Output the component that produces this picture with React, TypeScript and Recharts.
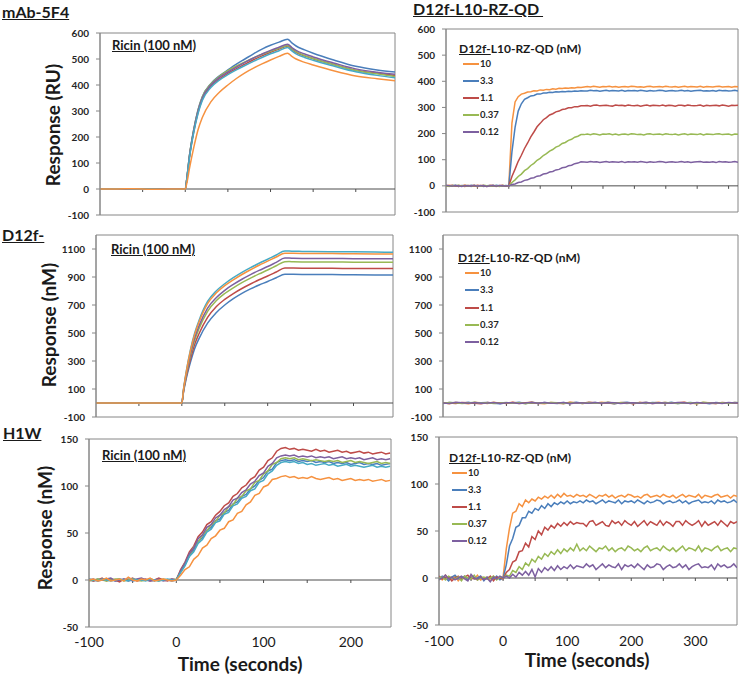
import React from 'react';
import { LineChart, Line, XAxis, YAxis, ReferenceArea, ReferenceLine } from 'recharts';

const FONT = 'Lato, "Liberation Sans", Arial, sans-serif';
const BLUE = '#4A7EBB';
const RED = '#BE4B48';
const GREEN = '#98B954';
const PURPLE = '#7D60A0';
const TEAL = '#46AAC5';
const ORANGE = '#F69240';
const BORDER = '#868686';
const ZERO = '#4d4d4d';

// series order as drawn (last one on top)
const ricinColors = [BLUE, RED, GREEN, PURPLE, TEAL, ORANGE];
const concLabels = ['10', '3.3', '1.1', '0.37', '0.12'];
const concColors = [ORANGE, BLUE, RED, GREEN, PURPLE];

const leftXDomain: [number, number] = [-100, 246];
const rightXDomain: [number, number] = [-100, 365];
const leftZeroTicks = [-50, 0, 50, 100, 150, 200];
const rightZeroTicks = [-50, 0, 50, 100, 150, 200, 250, 300, 350];
const leftTimeLabels = [-100, 0, 100, 200];
const rightTimeLabels = [-100, 0, 100, 200, 300];
const ruTicks = [-100, 0, 100, 200, 300, 400, 500, 600];
const bigTicks = [-100, 100, 300, 500, 700, 900, 1100];
const smallTicks = [-50, 0, 50, 100, 150];

// time (seconds)
const tSmooth = [-100, -80, -60, -40, -20, 0, 2, 5, 10, 15, 20, 30, 40, 50, 60, 70, 80, 90, 100, 110, 120, 125, 130, 140, 150, 175, 200, 225, 246];
const tH1W = [-100, -95, -90, -85, -80, -75, -70, -65, -60, -55, -50, -45, -40, -35, -30, -25, -20, -15, -10, -5, 0, 5, 10, 15, 20, 25, 30, 35, 40, 45, 50, 55, 60, 65, 70, 75, 80, 85, 90, 95, 100, 105, 110, 115, 120, 125, 130, 135, 140, 145, 150, 155, 160, 165, 170, 175, 180, 185, 190, 195, 200, 205, 210, 215, 220, 225, 230, 235, 240, 245];
const tRight = [-100, -95, -90, -85, -80, -75, -70, -65, -60, -55, -50, -45, -40, -35, -30, -25, -20, -15, -10, -5, 0, 5, 10, 15, 20, 25, 30, 35, 40, 45, 50, 55, 60, 65, 70, 75, 80, 85, 90, 95, 100, 105, 110, 115, 120, 125, 130, 135, 140, 145, 150, 155, 160, 165, 170, 175, 180, 185, 190, 195, 200, 205, 210, 215, 220, 225, 230, 235, 240, 245, 250, 255, 260, 265, 270, 275, 280, 285, 290, 295, 300, 305, 310, 315, 320, 325, 330, 335, 340, 345, 350, 355, 360, 365];
const tFlat = [-100, -90, -80, -70, -60, -50, -40, -30, -20, -10, 0, 10, 20, 30, 40, 50, 60, 70, 80, 90, 100, 110, 120, 130, 140, 150, 160, 170, 180, 190, 200, 210, 220, 230, 240, 250, 260, 270, 280, 290, 300, 310, 320, 330, 340, 350, 360, 365];

// mAb-5F4 + ricin (RU)
const mabBlue = [0, 1, 0, -1, 0, 0, 45, 130, 230, 305, 355, 405, 435, 458, 480, 500, 520, 538, 553, 565, 576, 562, 550, 535, 522, 495, 472, 458, 450];
const mabRed = [0, 0, 1, 0, -1, 0, 42, 125, 222, 295, 345, 395, 423, 445, 463, 480, 497, 512, 526, 538, 550, 537, 526, 512, 501, 478, 457, 445, 437];
const mabGreen = [0, -1, 0, 1, 0, 0, 45, 130, 228, 303, 354, 404, 433, 455, 473, 489, 504, 518, 530, 541, 552, 539, 528, 513, 502, 478, 456, 443, 433];
const mabPurple = [0, 0, -1, 0, 1, 0, 44, 128, 226, 300, 350, 400, 429, 450, 469, 487, 504, 519, 533, 545, 557, 544, 533, 519, 508, 484, 462, 449, 441];
const mabTeal = [0, 1, 0, 0, -1, 0, 42, 122, 218, 290, 340, 390, 419, 440, 458, 475, 491, 506, 520, 532, 544, 531, 520, 506, 495, 472, 451, 437, 428];
const mabOrange = [0, 0, 1, -1, 0, 0, 25, 80, 160, 228, 275, 335, 372, 400, 425, 447, 465, 481, 496, 510, 522, 510, 500, 487, 477, 454, 435, 424, 416];

// D12f- + ricin
const d12Blue = [0, 0, 0, 0, 0, 0, 80, 170, 290, 390, 460, 570, 645, 700, 745, 783, 815, 843, 868, 895, 920, 920, 919, 918, 918, 917, 916, 915, 915];
const d12Red = [0, 0, 0, 0, 0, 0, 85, 183, 314, 420, 495, 612, 688, 740, 782, 818, 850, 880, 907, 936, 965, 965, 964, 963, 963, 962, 961, 960, 960];
const d12Green = [0, 0, 0, 0, 0, 0, 91, 197, 339, 449, 530, 655, 730, 782, 823, 860, 892, 922, 950, 980, 1009, 1010, 1009, 1008, 1008, 1007, 1006, 1005, 1005];
const d12Purple = [0, 0, 0, 0, 0, 0, 94, 205, 353, 467, 551, 678, 752, 805, 847, 884, 917, 947, 975, 1005, 1035, 1035, 1034, 1033, 1033, 1032, 1031, 1030, 1030];
const d12Teal = [0, 0, 0, 0, 0, 0, 100, 220, 380, 500, 590, 725, 800, 852, 895, 933, 967, 998, 1027, 1057, 1085, 1085, 1084, 1083, 1082, 1081, 1080, 1078, 1077];
const d12Orange = [0, 0, 0, 0, 0, 0, 98, 215, 372, 490, 578, 710, 785, 838, 880, 918, 952, 984, 1013, 1043, 1070, 1070, 1069, 1068, 1068, 1067, 1066, 1065, 1065];

// H1W + ricin
const h1wRed = [1, -1, 0, 2, -1, 1, 0, -2, 1, 0, 2, -1, 0, 1, -1, 0, 2, 0, -1, 1, 0, 11, 19, 30, 36, 46, 51, 59, 62, 69, 73, 79, 82, 89, 92, 98, 101, 107, 110, 117, 120, 127, 130, 137, 140, 141, 139, 140, 138, 139, 138, 137, 139, 137, 138, 136, 137, 138, 136, 137, 135, 136, 137, 135, 136, 134, 135, 136, 134, 135];
const h1wPurple = [0, 1, -1, 0, 1, 2, -1, 0, 1, -1, 0, 1, 2, 0, -1, 0, 1, -1, 0, 1, 0, 10, 18, 28, 34, 44, 48, 56, 59, 66, 69, 75, 78, 85, 87, 93, 96, 102, 105, 111, 114, 121, 124, 130, 132, 133, 132, 133, 131, 132, 131, 132, 130, 131, 130, 131, 129, 130, 131, 129, 130, 129, 130, 128, 129, 130, 128, 129, 128, 129];
const h1wGreen = [-1, 0, 1, 0, -1, 0, 1, 1, -1, 0, 1, 0, -1, 0, 1, 0, -1, 1, 0, 0, 1, 9, 18, 25, 35, 40, 48, 52, 59, 62, 69, 71, 78, 80, 87, 89, 95, 97, 104, 106, 113, 116, 123, 125, 129, 130, 129, 130, 128, 129, 128, 127, 128, 127, 126, 127, 126, 127, 125, 126, 127, 125, 126, 125, 124, 125, 126, 124, 125, 124];
const h1wBlue = [0, -1, 1, 0, 0, 1, -1, 0, 0, 1, -1, 0, 1, 0, 0, -1, 1, 0, 0, -1, 0, 9, 16, 26, 32, 41, 45, 53, 56, 63, 65, 72, 74, 81, 83, 89, 91, 97, 100, 106, 109, 116, 118, 125, 127, 128, 127, 128, 126, 127, 126, 127, 125, 126, 125, 126, 124, 125, 124, 125, 123, 124, 125, 123, 124, 123, 124, 122, 123, 124];
const h1wTeal = [1, 0, -1, 1, 0, -1, 0, 1, 0, -1, 1, 0, 0, -1, 1, 0, -1, 0, 1, 0, 0, 8, 15, 25, 30, 39, 43, 51, 54, 61, 63, 70, 72, 79, 81, 87, 89, 95, 97, 104, 106, 113, 116, 122, 125, 126, 125, 126, 124, 125, 123, 124, 122, 123, 124, 122, 123, 121, 122, 123, 121, 122, 121, 120, 121, 122, 120, 121, 120, 121];
const h1wOrange = [0, 1, -1, 0, 2, -1, 0, 1, -1, 3, 0, -1, 1, 0, 2, -1, 0, 1, 0, -1, 0, 5, 11, 14, 22, 26, 34, 37, 44, 47, 53, 55, 62, 64, 71, 73, 80, 83, 90, 92, 99, 101, 107, 108, 110, 111, 109, 110, 108, 109, 108, 110, 108, 107, 108, 109, 107, 108, 106, 107, 108, 106, 107, 106, 107, 105, 106, 107, 105, 106];

// D12f-L10-RZ-QD on mAb-5F4 (RU)
const qdTopOrange = [0, 2, -1, 1, -2, 0, 3, -1, 0, 2, -3, 1, 0, -1, 2, 0, -2, 1, -1, 0, 0, 240, 321, 341, 351, 354, 359, 360, 364, 363, 367, 366, 369, 368, 371, 370, 373, 372, 374, 373, 375, 374, 377, 376, 378, 380, 378, 381, 379, 377, 380, 379, 381, 378, 380, 377, 379, 380, 378, 381, 380, 378, 379, 377, 380, 381, 378, 379, 380, 378, 381, 379, 378, 380, 377, 379, 381, 378, 380, 379, 378, 381, 377, 380, 379, 378, 380, 381, 378, 379, 380, 377, 380, 379];
const qdTopBlue = [1, -1, 0, 2, -2, 1, 0, -1, 2, 0, -1, 1, -2, 0, 1, -1, 2, 0, -1, 1, 0, 130, 224, 286, 314, 331, 337, 344, 346, 351, 351, 355, 355, 358, 357, 360, 359, 361, 360, 362, 361, 363, 362, 364, 363, 363, 366, 364, 365, 362, 364, 366, 363, 365, 364, 363, 366, 362, 365, 364, 365, 363, 366, 364, 362, 365, 363, 364, 366, 365, 362, 364, 365, 363, 364, 366, 363, 365, 362, 364, 365, 366, 363, 364, 363, 365, 362, 366, 364, 365, 363, 364, 366, 363];
const qdTopRed = [-1, 0, 2, -1, 1, 0, -2, 1, 0, -1, 2, 0, 1, -2, 0, 1, -1, 0, 2, -1, 0, 36, 64, 94, 117, 143, 164, 187, 206, 226, 239, 253, 261, 271, 276, 283, 286, 292, 294, 299, 299, 303, 303, 306, 306, 307, 305, 308, 309, 306, 307, 308, 306, 305, 309, 307, 308, 306, 309, 307, 306, 308, 305, 307, 309, 306, 308, 307, 306, 309, 306, 308, 307, 305, 308, 308, 306, 309, 307, 306, 307, 309, 305, 308, 306, 307, 308, 306, 309, 307, 305, 308, 307, 308];
const qdTopGreen = [0, -2, 1, 0, 2, -1, 0, 1, -2, 1, 0, -1, 2, 0, -1, 1, 0, -2, 1, 0, 0, 13, 23, 36, 45, 58, 66, 78, 86, 98, 105, 116, 123, 133, 139, 148, 153, 162, 166, 174, 178, 186, 190, 196, 196, 198, 196, 199, 197, 195, 198, 197, 199, 196, 198, 195, 197, 198, 196, 199, 198, 196, 197, 195, 198, 199, 196, 197, 198, 196, 199, 197, 196, 198, 195, 197, 199, 196, 198, 197, 196, 199, 195, 198, 197, 196, 198, 199, 196, 197, 198, 195, 198, 197];
const qdTopPurple = [2, 0, -1, 1, 0, -2, 1, 0, -1, 2, -1, 0, 1, -2, 0, 2, -1, 1, 0, -1, 0, 5, 7, 13, 15, 21, 23, 29, 31, 37, 39, 45, 47, 53, 55, 61, 63, 69, 71, 77, 79, 85, 87, 92, 91, 90, 93, 91, 92, 89, 91, 93, 90, 92, 91, 90, 93, 89, 92, 91, 92, 90, 93, 91, 89, 92, 90, 91, 93, 92, 89, 91, 92, 90, 91, 93, 90, 92, 89, 91, 92, 93, 90, 91, 90, 92, 89, 93, 91, 92, 90, 91, 93, 90];

// D12f-L10-RZ-QD on D12f- (no binding)
const qdMidOrange = [2, -5, 4, 0, -6, 3, 1, -3, 5, -2, 0, 4, -4, 2, 6, -1, -5, 3, 0, -3, 5, 1, -4, 2, -2, 6, 0, -5, 3, 1, -3, 4, -1, 0, 5, -4, 2, -2, 3, 0, -5, 4, 1, -3, 2, -1, 3, 0];
const qdMidBlue = [-3, 4, 0, -2, 5, -4, 1, 3, -1, -5, 2, 0, 6, -3, 1, -2, 4, 0, -4, 3, -1, 5, -2, 0, 4, -3, 1, -5, 2, 6, -1, 0, -3, 4, 1, -2, 5, -4, 0, 3, -1, 2, -5, 4, 0, -2, 3, 1];
const qdMidRed = [1, 0, -4, 3, 2, -1, -5, 4, 0, 2, -3, 5, -2, 0, 3, -4, 1, 2, -1, -3, 4, 0, -2, 5, 1, -4, 3, 0, -1, 2, -5, 4, 1, -3, 0, 3, -2, 1, 5, -4, 0, 2, -1, -3, 4, 0, 2, -2];
const qdMidGreen = [-2, 3, 1, -4, 0, 5, -1, 2, -3, 0, 4, -2, 1, -5, 3, 0, -1, 4, 2, -3, 0, 1, -4, 3, -2, 0, 5, -1, 2, -3, 1, 0, 4, -2, -1, 3, 0, -4, 2, 1, -3, 5, 0, -1, 2, -4, 1, 3];
const qdMidPurple = [0, -3, 5, 1, -2, 4, -1, 0, 3, -4, 2, 1, -3, 0, 5, -2, 3, -1, 0, 4, -5, 2, 0, -1, 3, -2, 4, 1, -3, 0, 2, -1, 5, -4, 1, 0, -2, 3, 1, -3, 4, 0, -1, 2, -4, 3, 0, 1];

// D12f-L10-RZ-QD on H1W
const qdLowOrange = [1, -2, 3, 0, -1, 2, -3, 1, 0, -2, 2, -1, 3, -2, 0, 1, -3, 2, -1, 0, 1, 31, 53, 69, 71, 79, 76, 83, 80, 84, 82, 86, 84, 87, 85, 88, 85, 89, 86, 90, 87, 88, 86, 89, 87, 88, 86, 89, 87, 85, 88, 87, 89, 86, 88, 85, 87, 88, 86, 89, 88, 86, 87, 85, 88, 89, 86, 87, 88, 86, 89, 87, 86, 88, 85, 87, 89, 86, 88, 87, 86, 89, 85, 88, 87, 86, 88, 89, 86, 87, 88, 85, 88, 87];
const qdLowBlue = [-1, 2, 0, -3, 1, 3, -1, 0, 2, -2, 1, -1, 0, 2, -3, 1, 0, -1, 2, -2, 0, 14, 34, 42, 54, 56, 64, 64, 71, 69, 74, 72, 77, 74, 79, 76, 80, 78, 81, 79, 82, 79, 81, 80, 82, 80, 83, 81, 82, 79, 81, 83, 80, 82, 81, 80, 83, 79, 82, 81, 82, 80, 83, 81, 79, 82, 80, 81, 83, 82, 79, 81, 82, 80, 81, 83, 80, 82, 79, 81, 82, 83, 80, 81, 80, 82, 79, 83, 81, 82, 80, 81, 83, 80];
const qdLowRed = [2, -1, 0, 1, -3, 0, 2, -2, 1, 3, -1, 0, -2, 1, 0, -1, 2, -3, 1, 0, -1, 6, 9, 17, 19, 28, 29, 37, 33, 44, 41, 50, 46, 54, 51, 56, 53, 58, 55, 59, 56, 60, 57, 59, 58, 58, 55, 60, 61, 56, 58, 60, 56, 55, 61, 58, 60, 56, 61, 58, 56, 60, 55, 58, 61, 56, 60, 58, 56, 61, 56, 60, 58, 55, 60, 60, 56, 61, 58, 56, 58, 61, 55, 60, 56, 58, 60, 56, 61, 58, 55, 60, 58, 60];
const qdLowGreen = [0, 1, -2, 2, 0, -1, 1, -3, 2, 0, -1, 3, -2, 0, 1, -1, 0, 2, -2, 1, 0, 3, 2, 8, 6, 12, 9, 16, 13, 20, 17, 23, 20, 26, 23, 28, 25, 30, 26, 31, 28, 32, 29, 36, 29, 32, 29, 34, 31, 28, 32, 31, 34, 29, 32, 28, 31, 32, 29, 34, 32, 29, 31, 28, 32, 34, 29, 31, 32, 29, 34, 31, 29, 32, 28, 31, 34, 29, 32, 31, 29, 34, 28, 32, 31, 29, 32, 34, 29, 31, 32, 28, 32, 31];
const qdLowPurple = [-2, 0, 3, -1, 1, -2, 0, 2, -1, -3, 4, 0, -1, 1, -2, 0, -4, 1, -1, 2, 0, 2, 0, 4, 1, 6, 3, 7, 3, 9, 1, 10, 6, 11, 8, 12, 8, 13, 9, 12, 10, 14, 10, 13, 12, 11, 15, 12, 14, 9, 12, 15, 11, 14, 12, 11, 15, 9, 14, 12, 14, 11, 15, 12, 9, 14, 11, 12, 15, 14, 9, 12, 14, 11, 12, 15, 11, 14, 9, 12, 14, 15, 11, 12, 11, 14, 9, 15, 12, 14, 11, 12, 15, 11];

type Box = { left: number; top: number; width: number; height: number };

type PanelProps = {
  box: Box;
  time: number[];
  series: number[][];
  colors: string[];
  xDomain: [number, number];
  yDomain: [number, number];
  yTicks: number[];
  zeroTicks: number[];
  xLabels?: number[];
  labelGap?: number;
  curve?: 'monotone' | 'linear';
};

function Panel({ box, time, series, colors, xDomain, yDomain, yTicks, zeroTicks, xLabels, labelGap = 10, curve = 'linear' }: PanelProps) {
  const yW = 42;
  const mt = 8;
  const mr = 2;
  const xH = xLabels ? 28 : 0;
  const mb = xLabels ? 0 : 10;
  const data = time.map((t, i) => {
    const row: Record<string, number> = { t };
    series.forEach((s, k) => {
      row['s' + k] = s[i];
    });
    return row;
  });
  const tickDepth = (3 * (yDomain[1] - yDomain[0])) / box.height;
  return (
    <div style={{ position: 'absolute', left: box.left - yW, top: box.top - mt }}>
      <LineChart
        width={yW + box.width + mr}
        height={mt + box.height + xH + mb}
        data={data}
        margin={{ top: mt, right: mr, bottom: mb, left: 0 }}
      >
        <XAxis
          dataKey="t"
          type="number"
          domain={xDomain}
          allowDataOverflow
          hide={!xLabels}
          ticks={xLabels}
          interval={0}
          height={xH}
          axisLine={false}
          tickLine={false}
          tickSize={0}
          tickMargin={labelGap}
          tick={{ fontSize: 14, fill: '#1a1a1a', fontFamily: FONT }}
        />
        <YAxis
          type="number"
          domain={yDomain}
          allowDataOverflow
          ticks={yTicks}
          interval={0}
          width={yW}
          axisLine={{ stroke: BORDER }}
          tickLine={{ stroke: BORDER }}
          tickSize={4}
          tickMargin={7}
          tick={{ fontSize: 10, fontWeight: 700, fill: '#262626', fontFamily: FONT }}
        />
        <ReferenceArea x1={xDomain[0]} x2={xDomain[1]} y1={yDomain[0]} y2={yDomain[1]} fill="none" fillOpacity={0} stroke={BORDER} strokeWidth={1} />
        <ReferenceLine y={0} stroke={ZERO} strokeWidth={1} />
        {zeroTicks.map((t) => (
          <ReferenceLine key={t} segment={[{ x: t, y: 0 }, { x: t, y: -tickDepth }]} stroke={ZERO} />
        ))}
        {series.map((_, k) => (
          <Line
            key={k}
            dataKey={'s' + k}
            type={curve}
            stroke={colors[k]}
            strokeWidth={1.5}
            dot={false}
            activeDot={false}
            isAnimationActive={false}
          />
        ))}
      </LineChart>
    </div>
  );
}

function Txt({ left, top, size, bold = true, underline = false, children }: { left: number; top: number; size: number; bold?: boolean; underline?: boolean; children: React.ReactNode }) {
  return (
    <div
      style={{
        position: 'absolute',
        left,
        top,
        fontSize: size,
        lineHeight: 1,
        fontWeight: bold ? 700 : 400,
        textDecoration: underline ? 'underline' : 'none',
        whiteSpace: 'nowrap',
        color: '#1a1a1a',
      }}
    >
      {children}
    </div>
  );
}

function YTitle({ cx, cy, text }: { cx: number; cy: number; text: string }) {
  return (
    <div
      style={{
        position: 'absolute',
        left: cx,
        top: cy,
        fontSize: 19,
        lineHeight: 1,
        fontWeight: 700,
        whiteSpace: 'nowrap',
        color: '#1a1a1a',
        transform: 'translate(-50%, -50%) rotate(-90deg)',
      }}
    >
      {text}
    </div>
  );
}

function XTitle({ cx, top }: { cx: number; top: number }) {
  return (
    <div
      style={{
        position: 'absolute',
        left: cx,
        top,
        fontSize: 19,
        lineHeight: 1,
        fontWeight: 700,
        whiteSpace: 'nowrap',
        color: '#1a1a1a',
        transform: 'translateX(-50%)',
      }}
    >
      Time (seconds)
    </div>
  );
}

function ConcLegend({ titleLeft, titleCap, lineX1, lineX2, labelX, firstRow, step }: { titleLeft: number; titleCap: number; lineX1: number; lineX2: number; labelX: number; firstRow: number; step: number }) {
  return (
    <>
      <div
        style={{
          position: 'absolute',
          left: titleLeft,
          top: titleCap - 6.4,
          fontSize: 12,
          lineHeight: 1,
          fontWeight: 700,
          whiteSpace: 'nowrap',
          color: '#1a1a1a',
        }}
      >
        <span style={{ textDecoration: 'underline' }}>D12f-</span>L10-RZ-QD (nM)
      </div>
      {concLabels.map((lab, i) => (
        <React.Fragment key={lab}>
          <div
            style={{
              position: 'absolute',
              left: lineX1,
              top: firstRow + i * step - 1,
              width: lineX2 - lineX1,
              height: 2,
              background: concColors[i],
            }}
          />
          <div
            style={{
              position: 'absolute',
              left: labelX,
              top: firstRow + i * step - 5,
              fontSize: 9.5,
              lineHeight: 1,
              fontWeight: 700,
              color: '#262626',
              whiteSpace: 'nowrap',
            }}
          >
            {lab}
          </div>
        </React.Fragment>
      ))}
    </>
  );
}

export default function App() {
  return (
    <div
      style={{
        position: 'absolute',
        left: 0,
        top: 0,
        width: 740,
        height: 675,
        overflow: 'hidden',
        background: '#ffffff',
        fontFamily: FONT,
      }}
    >
      <Panel
        box={{ left: 100, top: 33, width: 295, height: 182 }}
        time={tSmooth}
        series={[mabBlue, mabRed, mabGreen, mabPurple, mabTeal, mabOrange]}
        colors={ricinColors}
        xDomain={leftXDomain}
        yDomain={[-100, 600]}
        yTicks={ruTicks}
        zeroTicks={leftZeroTicks}
        curve="monotone"
      />
      <Panel
        box={{ left: 96, top: 235, width: 297, height: 182 }}
        time={tSmooth}
        series={[d12Blue, d12Red, d12Green, d12Purple, d12Teal, d12Orange]}
        colors={ricinColors}
        xDomain={leftXDomain}
        yDomain={[-100, 1200]}
        yTicks={bigTicks}
        zeroTicks={leftZeroTicks}
        curve="monotone"
      />
      <Panel
        box={{ left: 89, top: 439, width: 302, height: 188 }}
        time={tH1W}
        series={[h1wBlue, h1wRed, h1wGreen, h1wPurple, h1wTeal, h1wOrange]}
        colors={ricinColors}
        xDomain={leftXDomain}
        yDomain={[-50, 150]}
        yTicks={smallTicks}
        zeroTicks={leftZeroTicks}
        xLabels={leftTimeLabels}
        labelGap={10}
      />
      <Panel
        box={{ left: 446, top: 29, width: 292, height: 183 }}
        time={tRight}
        series={[qdTopOrange, qdTopBlue, qdTopRed, qdTopGreen, qdTopPurple]}
        colors={concColors}
        xDomain={rightXDomain}
        yDomain={[-100, 600]}
        yTicks={ruTicks}
        zeroTicks={rightZeroTicks}
      />
      <Panel
        box={{ left: 443, top: 235, width: 295, height: 182 }}
        time={tFlat}
        series={[qdMidOrange, qdMidBlue, qdMidRed, qdMidGreen, qdMidPurple]}
        colors={concColors}
        xDomain={rightXDomain}
        yDomain={[-100, 1200]}
        yTicks={bigTicks}
        zeroTicks={rightZeroTicks}
      />
      <Panel
        box={{ left: 439, top: 437, width: 298, height: 188 }}
        time={tRight}
        series={[qdLowOrange, qdLowBlue, qdLowRed, qdLowGreen, qdLowPurple]}
        colors={concColors}
        xDomain={rightXDomain}
        yDomain={[-50, 150]}
        yTicks={smallTicks}
        zeroTicks={rightZeroTicks}
        xLabels={rightTimeLabels}
        labelGap={11}
      />

      <Txt left={2} top={4} size={16} underline>mAb-5F4</Txt>
      <Txt left={413} top={1} size={16} underline>{'D12f-L10-RZ-QD\u00a0'}</Txt>
      <Txt left={2} top={226.5} size={16} underline>D12f-</Txt>
      <Txt left={3} top={425} size={16} underline>H1W</Txt>

      <Txt left={112} top={38.6} size={13} underline>Ricin (100 nM)</Txt>
      <Txt left={111} top={243} size={13} underline>Ricin (100 nM)</Txt>
      <Txt left={102} top={449} size={13} underline>Ricin (100 nM)</Txt>

      <YTitle cx={52} cy={125} text="Response (RU)" />
      <YTitle cx={47.5} cy={325} text="Response (nM)" />
      <YTitle cx={43.5} cy={528} text="Response (nM)" />
      <XTitle cx={240} top={654} />
      <XTitle cx={587} top={650} />

      <ConcLegend titleLeft={459} titleCap={49.2} lineX1={463} lineX2={479} labelX={480} firstRow={64.3} step={17} />
      <ConcLegend titleLeft={458} titleCap={258.3} lineX1={465} lineX2={479} labelX={480} firstRow={273.3} step={17.1} />
      <ConcLegend titleLeft={449} titleCap={458.7} lineX1={452} lineX2={467} labelX={468} firstRow={473.3} step={16.9} />
    </div>
  );
}
